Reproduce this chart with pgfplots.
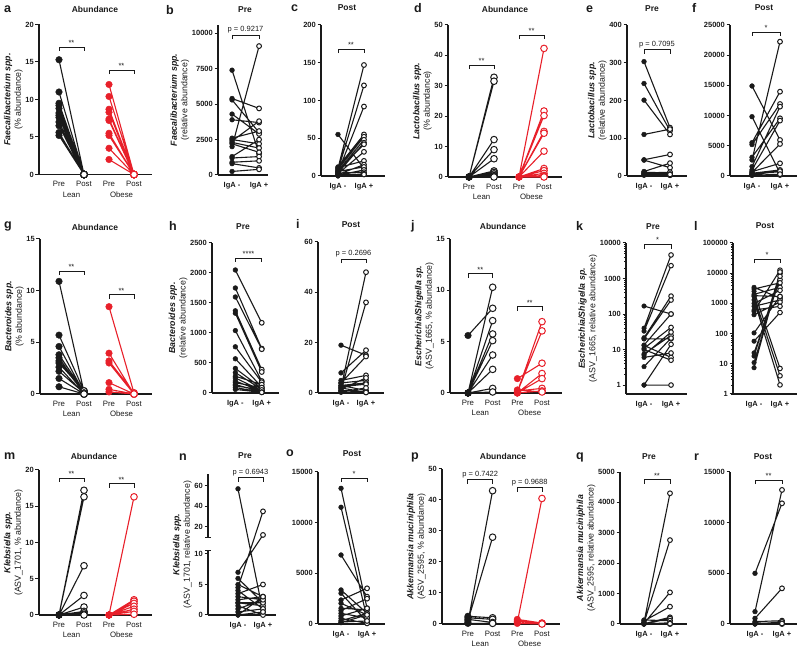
\documentclass[border=0pt]{standalone}
\usepackage{fontspec}
\setmainfont{Liberation Sans}
\usepackage{pgfplots}
\usepackage{pgfplotstable}
\pgfplotsset{compat=1.18}
\definecolor{lc}{HTML}{1A1A1A}
\definecolor{rc}{HTML}{E8202A}

\pgfplotsset{
  pp/.style={
    scale only axis, anchor=south west, clip=false,
    axis lines=left,
    axis line style={-, line width=1.2pt, draw=lc},
    every inner x axis line/.append style={-}, every inner y axis line/.append style={-},
    every outer x axis line/.append style={-}, every outer y axis line/.append style={-},
    ymin=0, tick align=outside, major tick length=3.5pt, minor tick length=2pt,
    y tick style={line width=1pt, draw=lc}, x tick style={draw=none},
    minor y tick style={line width=0.6pt},
    tick label style={font=\fontsize{7.5}{8}\selectfont\bfseries, text=lc},
    yticklabel style={inner sep=1.5pt},
    /pgf/number format/assume math mode=true, /pgf/number format/1000 sep={},
    scaled y ticks=false,
    ylabel style={align=center, font=\fontsize{8.8}{10.5}\selectfont, text=lc, inner sep=1pt},
    unbounded coords=jump,
  },
  iga/.style={xtick={0,1}, xticklabels={IgA -,IgA +}},
  abund/.style={xtick={0,1,2,3}, xticklabels={Pre,Post,Pre,Post},
    xticklabel style={font=\fontsize{7.8}{8}\selectfont}},
}

\newcommand{\pairplot}[5]{%
  \addplot[no markers, line width=1.1pt, draw=#2] table {#1};
  \addplot[only marks, mark=*, mark size=#3, mark options={draw=#2, fill=white, line width=1pt}, restrict x to domain=#5] table {#1};
  \addplot[only marks, mark=*, mark size=#3, mark options={draw=#2, fill=#2}, restrict x to domain=#4] table {#1};
}
\newcommand{\brk}[4]{%
  \draw[line width=0.9pt, lc] ([yshift=-4pt]axis cs:#1,#3) -- (axis cs:#1,#3) -- (axis cs:#2,#3) -- ([yshift=-4pt]axis cs:#2,#3);
  \path (axis cs:#1,#3) -- node[midway, above, inner sep=1.5pt, font=\fontsize{7.5}{8}\selectfont, text=lc] {#4} (axis cs:#2,#3);
}
\newcommand{\grp}{%
  \node[font=\fontsize{7.8}{8}\selectfont, text=lc] at ([yshift=-20pt]axis cs:0.5,0) {Lean};
  \node[font=\fontsize{7.8}{8}\selectfont, text=lc] at ([yshift=-20pt]axis cs:2.5,0) {Obese};
}

% ---------------- data (x = group position, y = value; nan separates pairs)
\pgfplotstableread[row sep=\\]{
x y\\
0 15.3\\1 0\\0 nan\\ 0 11\\1 0\\0 nan\\ 0 9.5\\1 0\\0 nan\\ 0 9.2\\1 0\\0 nan\\
0 8.8\\1 0\\0 nan\\ 0 8.2\\1 0\\0 nan\\ 0 7.9\\1 0\\0 nan\\ 0 7.6\\1 0\\0 nan\\
0 7.0\\1 0\\0 nan\\ 0 6.5\\1 0\\0 nan\\ 0 5.6\\1 0\\0 nan\\ 0 5.2\\1 0\\0 nan\\
}\tAL
\pgfplotstableread[row sep=\\]{
x y\\
2 12\\3 0\\2 nan\\ 2 10.4\\3 0\\2 nan\\ 2 8.7\\3 0\\2 nan\\ 2 8.3\\3 0\\2 nan\\
2 7.4\\3 0\\2 nan\\ 2 7.2\\3 0\\2 nan\\ 2 5.5\\3 0\\2 nan\\ 2 5.2\\3 0\\2 nan\\
2 3.5\\3 0\\2 nan\\ 2 2.0\\3 0\\2 nan\\
}\tAO
\pgfplotstableread[row sep=\\]{
x y\\
0 7400\\1 1500\\0 nan\\ 0 5400\\1 4700\\0 nan\\ 0 5300\\1 3000\\0 nan\\ 0 4300\\1 2900\\0 nan\\
0 3900\\1 3700\\0 nan\\ 0 2600\\1 3100\\0 nan\\ 0 2500\\1 2200\\0 nan\\ 0 2400\\1 3800\\0 nan\\
0 2300\\1 1900\\0 nan\\ 0 2200\\1 1600\\0 nan\\ 0 2000\\1 9100\\0 nan\\ 0 1300\\1 2500\\0 nan\\
0 1200\\1 1300\\0 nan\\ 0 900\\1 1000\\0 nan\\ 0 800\\1 500\\0 nan\\ 0 250\\1 400\\0 nan\\
}\tB
\pgfplotstableread[row sep=\\]{
x y\\
0 55\\1 10\\0 nan\\ 0 10\\1 147\\0 nan\\ 0 8\\1 120\\0 nan\\ 0 5\\1 92\\0 nan\\
0 12\\1 55\\0 nan\\ 0 9\\1 52\\0 nan\\ 0 6\\1 48\\0 nan\\ 0 4\\1 44\\0 nan\\
0 7\\1 42\\0 nan\\ 0 3\\1 32\\0 nan\\ 0 11\\1 20\\0 nan\\ 0 2\\1 15\\0 nan\\
0 6\\1 12\\0 nan\\ 0 1\\1 8\\0 nan\\ 0 4\\1 5\\0 nan\\ 0 0\\1 3\\0 nan\\ 0 2\\1 2\\0 nan\\
}\tC
\pgfplotstableread[row sep=\\]{
x y\\
0 0\\1 32.8\\0 nan\\ 0 0\\1 31.5\\0 nan\\ 0 0\\1 12.3\\0 nan\\ 0 0\\1 9\\0 nan\\
0 0\\1 6\\0 nan\\ 0 0\\1 2\\0 nan\\ 0 0\\1 1.5\\0 nan\\ 0 0\\1 1\\0 nan\\
0 0\\1 0.5\\0 nan\\ 0 0\\1 0.2\\0 nan\\ 0 0\\1 0\\0 nan\\
}\tDL
\pgfplotstableread[row sep=\\]{
x y\\
2 0\\3 42.3\\2 nan\\ 2 0\\3 21.7\\2 nan\\ 2 0\\3 20.2\\2 nan\\ 2 0\\3 15\\2 nan\\
2 0\\3 14.4\\2 nan\\ 2 0\\3 8.5\\2 nan\\ 2 0\\3 2.8\\2 nan\\ 2 0\\3 2.1\\2 nan\\
2 0\\3 1.2\\2 nan\\ 2 0\\3 0.5\\2 nan\\ 2 0\\3 0.2\\2 nan\\ 2 0\\3 0\\2 nan\\
}\tDO
\pgfplotstableread[row sep=\\]{
x y\\
0 303\\1 128\\0 nan\\ 0 245\\1 120\\0 nan\\ 0 201\\1 110\\0 nan\\ 0 110\\1 124\\0 nan\\
0 43\\1 57\\0 nan\\ 0 42\\1 22\\0 nan\\ 0 12\\1 34\\0 nan\\ 0 10\\1 8\\0 nan\\
0 8\\1 10\\0 nan\\ 0 6\\1 5\\0 nan\\ 0 5\\1 3\\0 nan\\ 0 3\\1 2\\0 nan\\ 0 2\\1 4\\0 nan\\
}\tE
\pgfplotstableread[row sep=\\]{
x y\\
0 14900\\1 5960\\0 nan\\ 0 9820\\1 450\\0 nan\\ 0 5520\\1 13960\\0 nan\\ 0 5200\\1 11920\\0 nan\\
0 3100\\1 9550\\0 nan\\ 0 2650\\1 22240\\0 nan\\ 0 1560\\1 11480\\0 nan\\ 0 1000\\1 9170\\0 nan\\
0 720\\1 2100\\0 nan\\ 0 450\\1 1000\\0 nan\\ 0 300\\1 720\\0 nan\\ 0 170\\1 170\\0 nan\\
0 600\\1 5300\\0 nan\\ 0 200\\1 800\\0 nan\\ 0 100\\1 300\\0 nan\\
}\tF
\pgfplotstableread[row sep=\\]{
x y\\
0 10.9\\1 0.2\\0 nan\\ 0 5.7\\1 0.3\\0 nan\\ 0 4.6\\1 0.1\\0 nan\\ 0 3.8\\1 0.2\\0 nan\\
0 3.5\\1 0\\0 nan\\ 0 3.2\\1 0.1\\0 nan\\ 0 3.0\\1 0.3\\0 nan\\ 0 2.6\\1 0\\0 nan\\
0 2.2\\1 0.1\\0 nan\\ 0 1.5\\1 0\\0 nan\\ 0 0.7\\1 0\\0 nan\\
}\tGL
\pgfplotstableread[row sep=\\]{
x y\\
2 8.45\\3 0.1\\2 nan\\ 2 3.95\\3 0\\2 nan\\ 2 3.2\\3 0.1\\2 nan\\ 2 3.0\\3 0\\2 nan\\
2 1.1\\3 0\\2 nan\\ 2 0.45\\3 0\\2 nan\\ 2 0.2\\3 0\\2 nan\\
}\tGO
\pgfplotstableread[row sep=\\]{
x y\\
0 2050\\1 1170\\0 nan\\ 0 1750\\1 740\\0 nan\\ 0 1600\\1 730\\0 nan\\ 0 1370\\1 390\\0 nan\\
0 1330\\1 350\\0 nan\\ 0 1040\\1 200\\0 nan\\ 0 770\\1 180\\0 nan\\ 0 570\\1 100\\0 nan\\
0 410\\1 80\\0 nan\\ 0 340\\1 60\\0 nan\\ 0 280\\1 140\\0 nan\\ 0 250\\1 40\\0 nan\\
0 200\\1 30\\0 nan\\ 0 170\\1 90\\0 nan\\ 0 140\\1 20\\0 nan\\ 0 120\\1 50\\0 nan\\
0 90\\1 15\\0 nan\\ 0 60\\1 10\\0 nan\\
}\tH
\pgfplotstableread[row sep=\\]{
x y\\
0 2\\1 48\\0 nan\\ 0 1\\1 36\\0 nan\\ 0 19\\1 15\\0 nan\\ 0 8\\1 17\\0 nan\\
0 5\\1 7\\0 nan\\ 0 4\\1 5\\0 nan\\ 0 3\\1 4\\0 nan\\ 0 2.5\\1 3.5\\0 nan\\
0 3\\1 1\\0 nan\\ 0 1\\1 0.5\\0 nan\\ 0 0.5\\1 2\\0 nan\\ 0 2\\1 0.3\\0 nan\\
0 4\\1 14.5\\0 nan\\ 0 0.3\\1 0.2\\0 nan\\ 0 1.5\\1 6\\0 nan\\
}\tI
\pgfplotstableread[row sep=\\]{
x y\\
0 5.6\\1 8.25\\0 nan\\ 0 0\\1 10.3\\0 nan\\ 0 0\\1 7.05\\0 nan\\ 0 0\\1 5.75\\0 nan\\
0 0\\1 5.1\\0 nan\\ 0 0\\1 3.7\\0 nan\\ 0 0\\1 2.3\\0 nan\\ 0 0\\1 0.45\\0 nan\\ 0 0\\1 0.1\\0 nan\\
}\tJL
\pgfplotstableread[row sep=\\]{
x y\\
2 1.4\\3 2.9\\2 nan\\ 2 0.1\\3 6.95\\2 nan\\ 2 0.1\\3 6.05\\2 nan\\ 2 0\\3 1.9\\2 nan\\
2 0\\3 1.4\\2 nan\\ 2 0.2\\3 0.45\\2 nan\\ 2 0\\3 0.2\\2 nan\\ 2 0.3\\3 0.1\\2 nan\\
}\tJO
\pgfplotstableread[row sep=\\]{
x y\\
0 168\\1 100\\0 nan\\ 0 40\\1 4600\\0 nan\\ 0 33\\1 2300\\0 nan\\ 0 21.5\\1 320\\0 nan\\
0 20\\1 247\\0 nan\\ 0 20\\1 20\\0 nan\\ 0 13.4\\1 100\\0 nan\\ 0 10.8\\1 42\\0 nan\\
0 7.5\\1 25\\0 nan\\ 0 7\\1 31\\0 nan\\ 0 3.3\\1 21\\0 nan\\ 0 1\\1 1\\0 nan\\
0 13\\1 6\\0 nan\\ 0 10\\1 5\\0 nan\\ 0 6\\1 8\\0 nan\\ 0 1\\1 14\\0 nan\\
}\tK
\pgfplotstableread[row sep=\\]{
x y\\
0 3400\\1 1500\\0 nan\\ 0 2500\\1 7\\0 nan\\ 0 1700\\1 4\\0 nan\\ 0 1300\\1 2\\0 nan\\
0 800\\1 1300\\0 nan\\ 0 540\\1 12600\\0 nan\\ 0 420\\1 1100\\0 nan\\ 0 105\\1 1700\\0 nan\\
0 56\\1 500\\0 nan\\ 0 23\\1 6100\\0 nan\\ 0 18\\1 9800\\0 nan\\ 0 11\\1 7900\\0 nan\\
0 7.4\\1 11000\\0 nan\\ 0 3000\\1 4800\\0 nan\\ 0 2000\\1 3400\\0 nan\\ 0 1000\\1 2700\\0 nan\\
0 600\\1 800\\0 nan\\ 0 1800\\1 1700\\0 nan\\
}\tL
\pgfplotstableread[row sep=\\]{
x y\\
0 0\\1 17.2\\0 nan\\ 0 0\\1 16.3\\0 nan\\ 0 0\\1 6.8\\0 nan\\ 0 0\\1 2.7\\0 nan\\
0 0\\1 1.1\\0 nan\\ 0 0\\1 0.5\\0 nan\\ 0 0\\1 0.3\\0 nan\\ 0 0\\1 0.1\\0 nan\\ 0 0\\1 0\\0 nan\\
}\tML
\pgfplotstableread[row sep=\\]{
x y\\
2 0\\3 16.3\\2 nan\\ 2 0\\3 2.1\\2 nan\\ 2 0\\3 1.9\\2 nan\\ 2 0\\3 1.6\\2 nan\\
2 0\\3 1.2\\2 nan\\ 2 0\\3 0.8\\2 nan\\ 2 0\\3 0.5\\2 nan\\ 2 0\\3 0.1\\2 nan\\
}\tMO
\pgfplotstableread[row sep=\\]{
x y\\
0 57\\1 0.5\\0 nan\\ 0 4.5\\1 35\\0 nan\\ 0 7\\1 12\\0 nan\\ 0 6\\1 2\\0 nan\\
0 5\\1 3\\0 nan\\ 0 4\\1 1\\0 nan\\ 0 3.5\\1 5\\0 nan\\ 0 3\\1 2.5\\0 nan\\
0 2.5\\1 3\\0 nan\\ 0 2\\1 1.5\\0 nan\\ 0 2\\1 2\\0 nan\\ 0 1.5\\1 0\\0 nan\\
0 1\\1 2.5\\0 nan\\ 0 0.5\\1 1\\0 nan\\ 0 0\\1 3\\0 nan\\ 0 0\\1 0.5\\0 nan\\
}\tN
\pgfplotstableread[row sep=\\]{
x y\\
0 13390\\1 1550\\0 nan\\ 0 11520\\1 560\\0 nan\\ 0 6810\\1 2700\\0 nan\\ 0 3360\\1 1050\\0 nan\\
0 3030\\1 230\\0 nan\\ 0 2370\\1 3520\\0 nan\\ 0 2040\\1 900\\0 nan\\ 0 1550\\1 1400\\0 nan\\
0 1320\\1 2500\\0 nan\\ 0 1050\\1 600\\0 nan\\ 0 790\\1 1550\\0 nan\\ 0 560\\1 60\\0 nan\\
0 330\\1 1050\\0 nan\\ 0 130\\1 900\\0 nan\\ 0 200\\1 300\\0 nan\\
}\tO
\pgfplotstableread[row sep=\\]{
x y\\
0 0.5\\1 43\\0 nan\\ 0 1\\1 28\\0 nan\\ 0 2.5\\1 2\\0 nan\\ 0 2\\1 1.5\\0 nan\\
0 1.5\\1 0.5\\0 nan\\ 0 0.2\\1 0.2\\0 nan\\
}\tPL
\pgfplotstableread[row sep=\\]{
x y\\
2 0.5\\3 40.5\\2 nan\\ 2 1.5\\3 0.3\\2 nan\\ 2 1\\3 0.2\\2 nan\\ 2 0.8\\3 0.1\\2 nan\\ 2 0.2\\3 0\\2 nan\\
}\tPO
\pgfplotstableread[row sep=\\]{
x y\\
0 50\\1 4300\\0 nan\\ 0 30\\1 2760\\0 nan\\ 0 20\\1 1040\\0 nan\\ 0 100\\1 570\\0 nan\\
0 10\\1 220\\0 nan\\ 0 0\\1 180\\0 nan\\ 0 130\\1 110\\0 nan\\ 0 0\\1 40\\0 nan\\
0 0\\1 0\\0 nan\\ 0 5\\1 10\\0 nan\\
}\tQ
\pgfplotstableread[row sep=\\]{
x y\\
0 5000\\1 11910\\0 nan\\ 0 1220\\1 13230\\0 nan\\ 0 560\\1 3520\\0 nan\\ 0 230\\1 330\\0 nan\\
0 0\\1 200\\0 nan\\ 0 0\\1 0\\0 nan\\ 0 100\\1 50\\0 nan\\
}\tR

\newcommand{\ttl}[3]{\node[font=\fontsize{8.5}{9}\selectfont\bfseries, text=lc] at (#1pt,#2pt) {#3};}
\newcommand{\lett}[3]{\node[font=\fontsize{12.5}{13}\selectfont\bfseries, text=lc, anchor=west, inner sep=0pt] at (#1pt,#2pt) {#3};}

\begin{document}
\begin{tikzpicture}
\useasboundingbox (0pt,0pt) rectangle (800pt,647pt);

% titles and panel letters
\ttl{95}{638}{Abundance}\ttl{245}{637}{Pre}\ttl{347}{639}{Post}
\ttl{505}{638}{Abundance}\ttl{652}{638}{Pre}\ttl{764}{639}{Post}
\ttl{95}{420}{Abundance}\ttl{243}{420}{Pre}\ttl{351}{422}{Post}
\ttl{503}{421}{Abundance}\ttl{653}{420}{Pre}\ttl{765}{421}{Post}
\ttl{94}{191}{Abundance}\ttl{245}{191}{Pre}\ttl{352}{193}{Post}
\ttl{503}{191}{Abundance}\ttl{649}{190}{Pre}\ttl{763}{190}{Post}
\lett{4}{638}{a}\lett{166}{637}{b}\lett{291}{639}{c}\lett{414}{639}{d}\lett{586}{638}{e}\lett{692}{639}{f}
\lett{4}{421}{g}\lett{169}{421}{h}\lett{296}{423}{i}\lett{411}{421}{j}\lett{576}{421}{k}\lett{694}{421}{l}
\lett{4}{191}{m}\lett{179}{190}{n}\lett{286}{194}{o}\lett{411}{190}{p}\lett{576}{190}{q}\lett{694}{190}{r}

% ---------- a
\begin{axis}[pp, abund, at={(39pt,472.5pt)}, width=113pt, height=150pt, xmin=-0.8, xmax=3.72, ymax=20,
  ytick={0,5,10,15,20},
  ylabel={\textbf{\textit{Faecalibacterium spp.}}\\(\% abundance)}]
\pairplot{\tAL}{lc}{3.3pt}{-0.5:0.5}{0.5:1.5}
\pairplot{\tAO}{rc}{3.3pt}{1.5:2.5}{2.5:3.5}
\brk{0}{1}{17}{**}\brk{2}{3}{13.9}{**}\grp
\end{axis}
% ---------- b
\begin{axis}[pp, iga, at={(218pt,472pt)}, width=50pt, height=150pt, xmin=-0.52, xmax=1.33, ymax=10590,
  ytick={0,2500,5000,7500,10000},
  ylabel={\textbf{\textit{Faecalibacterium spp.}}\\(relative abundance)}]
\pairplot{\tB}{lc}{2.4pt}{-0.5:0.5}{0.5:1.5}
\brk{0}{1}{9880}{p = 0.9217}
\end{axis}
% ---------- c
\begin{axis}[pp, iga, at={(321pt,471pt)}, width=64pt, height=151pt, xmin=-0.654, xmax=1.81, ymax=200,
  ytick={0,50,100,150,200}]
\pairplot{\tC}{lc}{2.4pt}{-0.5:0.5}{0.5:1.5}
\brk{0}{1}{168}{**}
\end{axis}
% ---------- d
\begin{axis}[pp, abund, at={(448pt,470pt)}, width=114pt, height=152pt, xmin=-0.84, xmax=3.72, ymax=50,
  ytick={0,10,20,30,40,50},
  ylabel={\textbf{\textit{Lactobacillus spp.}}\\(\% abundance)}]
\pairplot{\tDL}{lc}{3.3pt}{-0.5:0.5}{0.5:1.5}
\pairplot{\tDO}{rc}{3.3pt}{1.5:2.5}{2.5:3.5}
\brk{0}{1}{36.8}{**}\brk{2}{3}{46.7}{**}\grp
\end{axis}
% ---------- e
\begin{axis}[pp, iga, at={(627pt,471pt)}, width=60pt, height=151pt, xmin=-0.654, xmax=1.654, ymax=400,
  ytick={0,100,200,300,400},
  ylabel={\textbf{\textit{Lactobacillus spp.}}\\(relative abundance)}]
\pairplot{\tE}{lc}{2.4pt}{-0.5:0.5}{0.5:1.5}
\brk{0}{1}{334}{p = 0.7095}
\end{axis}
% ---------- f
\begin{axis}[pp, iga, at={(730pt,471pt)}, width=67pt, height=151pt, xmin=-0.786, xmax=1.607, ymax=25000,
  ytick={0,5000,10000,15000,20000,25000}]
\pairplot{\tF}{lc}{2.4pt}{-0.5:0.5}{0.5:1.5}
\brk{0}{1}{23840}{*}
\end{axis}

% ---------- g
\begin{axis}[pp, abund, at={(40pt,253pt)}, width=112pt, height=155pt, xmin=-0.76, xmax=3.72, ymax=15,
  ytick={0,5,10,15},
  ylabel={\textbf{\textit{Bacteroides spp.}}\\(\% abundance)}]
\pairplot{\tGL}{lc}{3.3pt}{-0.5:0.5}{0.5:1.5}
\pairplot{\tGO}{rc}{3.3pt}{1.5:2.5}{2.5:3.5}
\brk{0}{1}{11.9}{**}\brk{2}{3}{9.6}{**}\grp
\end{axis}
% ---------- h
\begin{axis}[pp, iga, at={(212pt,254pt)}, width=67pt, height=150pt, xmin=-0.885, xmax=1.654, ymax=2500,
  ytick={0,500,1000,1500,2000,2500},
  ylabel={\textbf{\textit{Bacteroides spp.}}\\(relative abundance)}]
\pairplot{\tH}{lc}{2.4pt}{-0.5:0.5}{0.5:1.5}
\brk{0}{1}{2250}{****}
\end{axis}
% ---------- i
\begin{axis}[pp, iga, at={(318pt,254pt)}, width=66pt, height=151pt, xmin=-0.92, xmax=1.72, ymax=60,
  ytick={0,20,40,60}]
\pairplot{\tI}{lc}{2.4pt}{-0.5:0.5}{0.5:1.5}
\brk{0}{1}{53.2}{p = 0.2696}
\end{axis}
% ---------- j
\begin{axis}[pp, abund, at={(450pt,254pt)}, width=112pt, height=154pt, xmin=-0.73, xmax=3.81, ymax=15,
  ytick={0,5,10,15},
  ylabel={\textbf{\textit{Escherichia/Shigella sp.}}\\(ASV\_1665, \% abundance)}]
\pairplot{\tJL}{lc}{3.3pt}{-0.5:0.5}{0.5:1.5}
\pairplot{\tJO}{rc}{3.3pt}{1.5:2.5}{2.5:3.5}
\brk{0}{1}{11.6}{**}\brk{2}{3}{8.4}{**}\grp
\end{axis}
% ---------- k
\begin{axis}[pp, iga, at={(626pt,253pt)}, width=61pt, height=151pt, xmin=-0.667, xmax=1.59,
  ymode=log, ymin=0.56, ymax=10000, ytick={1,10,100,1000,10000}, yticklabels={1,10,100,1000,10000},
  ylabel={\textbf{\textit{Escherichia/Shigella sp.}}\\(ASV\_1665, relative abundance)}]
\pairplot{\tK}{lc}{2.3pt}{-0.5:0.5}{0.5:1.5}
\brk{0}{1}{9000}{*}
\end{axis}
% ---------- l
\begin{axis}[pp, iga, at={(733pt,253pt)}, width=64pt, height=151pt, xmin=-0.81, xmax=1.654,
  ymode=log, ymin=1, ymax=100000, ytick={1,10,100,1000,10000,100000}, yticklabels={1,10,100,1000,10000,100000}]
\pairplot{\tL}{lc}{2.3pt}{-0.5:0.5}{0.5:1.5}
\brk{0}{1}{29500}{*}
\end{axis}

% ---------- m
\begin{axis}[pp, abund, at={(39pt,32pt)}, width=113pt, height=145pt, xmin=-0.8, xmax=3.72, ymax=20,
  ytick={0,5,10,15,20},
  ylabel={\textbf{\textit{Klebsiella spp.}}\\(ASV\_1701, \% abundance)}]
\pairplot{\tML}{lc}{3.3pt}{-0.5:0.5}{0.5:1.5}
\pairplot{\tMO}{rc}{3.3pt}{1.5:2.5}{2.5:3.5}
\brk{0}{1}{18.9}{**}\brk{2}{3}{18.1}{**}\grp
\end{axis}
% ---------- n (broken axis: 0-10.5 below, 10-70 above)
\begin{axis}[pp, iga, at={(208pt,32pt)}, width=68pt, height=141pt, xmin=-1.2, xmax=1.52, ymin=0, ymax=141,
  ytick={0,30.5,61,88.25,108.75,129.25}, yticklabels={0,5,10,20,40,60},
  y axis line style={draw=none},
  y filter/.expression={y<=10.5 ? 6.1*y : 78+1.025*(y-10)},
  ylabel={\textbf{\textit{Klebsiella spp.}}\\(ASV\_1701, relative abundance)}]
\pairplot{\tN}{lc}{2.4pt}{-0.5:0.5}{0.5:1.5}
\draw[line width=1.2pt, lc] (rel axis cs:0,0) -- (rel axis cs:0,0.454);
\draw[line width=1.2pt, lc] (rel axis cs:0,0.553) -- (rel axis cs:0,1);
\draw[line width=1pt, lc] ([xshift=-3pt]rel axis cs:0,0.454) -- ([xshift=3pt]rel axis cs:0,0.454);
\draw[line width=1pt, lc] ([xshift=-3pt]rel axis cs:0,0.553) -- ([xshift=3pt]rel axis cs:0,0.553);
\draw[line width=0.9pt, lc] ([yshift=-4pt]rel axis cs:0.441,0.975) -- (rel axis cs:0.441,0.975) -- (rel axis cs:0.809,0.975) -- ([yshift=-4pt]rel axis cs:0.809,0.975);
\node[font=\fontsize{7.5}{8}\selectfont, text=lc, anchor=south, inner sep=1.5pt] at (rel axis cs:0.625,0.975) {p = 0.6943};
\end{axis}
% ---------- o
\begin{axis}[pp, iga, at={(318pt,23pt)}, width=67pt, height=152pt, xmin=-0.885, xmax=1.69, ymax=15000,
  ytick={0,5000,10000,15000}]
\pairplot{\tO}{lc}{2.4pt}{-0.5:0.5}{0.5:1.5}
\brk{0}{1}{14400}{*}
\end{axis}
% ---------- p
\begin{axis}[pp, abund, at={(442pt,23pt)}, width=118pt, height=155pt, xmin=-1.05, xmax=3.73, ymax=50,
  ytick={0,10,20,30,40,50},
  ylabel={\textbf{\textit{Akkermansia muciniphila}}\\(ASV\_2595, \% abundance)}]
\pairplot{\tPL}{lc}{3.3pt}{-0.5:0.5}{0.5:1.5}
\pairplot{\tPO}{rc}{3.3pt}{1.5:2.5}{2.5:3.5}
\brk{0}{1}{46.5}{p = 0.7422}\brk{2}{3}{43.9}{p = 0.9688}\grp
\end{axis}
% ---------- q
\begin{axis}[pp, iga, at={(620pt,23pt)}, width=67pt, height=152pt, xmin=-0.92, xmax=1.654, ymax=5000,
  ytick={0,1000,2000,3000,4000,5000},
  ylabel={\textbf{\textit{Akkermansia muciniphila}}\\(ASV\_2595, relative abundance)}]
\pairplot{\tQ}{lc}{2.4pt}{-0.5:0.5}{0.5:1.5}
\brk{0}{1}{4740}{**}
\end{axis}
% ---------- r
\begin{axis}[pp, iga, at={(730pt,23pt)}, width=67pt, height=152pt, xmin=-0.926, xmax=1.556, ymax=15000,
  ytick={0,5000,10000,15000}]
\pairplot{\tR}{lc}{2.4pt}{-0.5:0.5}{0.5:1.5}
\brk{0}{1}{14200}{**}
\end{axis}
\end{tikzpicture}
\end{document}
